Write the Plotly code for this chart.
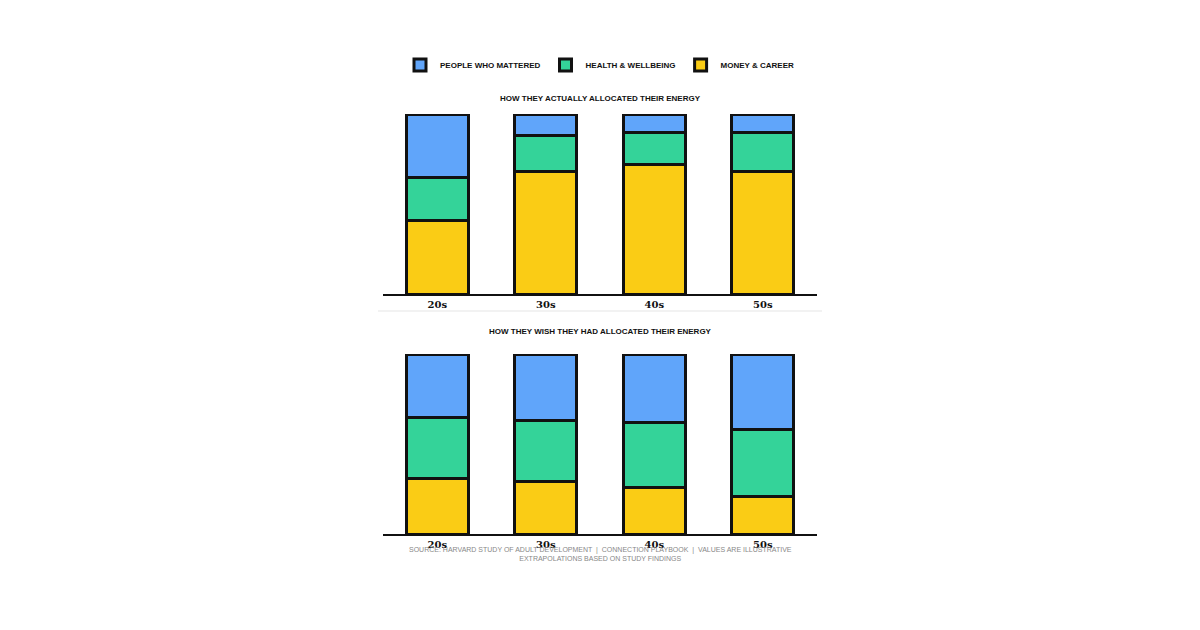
import plotly.graph_objects as go

decades = ["20s", "30s", "40s", "50s"]
actual_money = [41, 68, 72, 68]
actual_health = [24, 20, 18, 22]
actual_people = [35, 12, 10, 10]
wish_money = [31, 29, 26, 21]
wish_health = [34, 34, 36, 37]
wish_people = [35, 37, 38, 42]

series_names = ["Money & Career", "Health & Wellbeing", "People Who Mattered"]
colors = ["#facc15", "#34d399", "#60a5fa"]

W, H = 1200, 630
OFF = 8
fig = go.Figure()
def py(p): return 1 - (p - OFF) / H
def px(p): return (p - OFF) / W

axes = [("x", "y", [actual_money, actual_health, actual_people], py(294), py(114)),
        ("x2", "y2", [wish_money, wish_health, wish_people], py(534), py(354))]
for i, (xa, ya, vals, y0, y1) in enumerate(axes):
    for j in range(3):
        fig.add_trace(go.Bar(x=decades, y=vals[j], name=series_names[j].upper(),
                             marker=dict(color=colors[j], line=dict(color="#111", width=3)),
                             xaxis=xa, yaxis=ya, showlegend=(i == 0),
                             legendrank=3 - j))
    suf = "" if i == 0 else "2"
    fig.layout["xaxis" + suf] = dict(domain=[px(383), px(817)], anchor=ya, showline=True,
                                     linecolor="#111", linewidth=2, ticks="", ticklabelstandoff=0,
                                     tickfont=dict(family="DejaVu Serif", size=10, color="#111", weight="bold"))
    fig.layout["yaxis" + suf] = dict(domain=[y0, y1], anchor=xa, range=[0, 100], visible=False)

fig.update_layout(
    barmode="stack", bargap=0.43, width=W, height=H, margin=dict(l=0, r=0, t=0, b=0),
    plot_bgcolor="white", paper_bgcolor="white",
    legend=dict(orientation="h", x=px(600), xanchor="center", y=py(65), yanchor="middle",
                traceorder="normal", font=dict(family="Liberation Sans", size=8, color="#111", weight="bold"),
                itemwidth=30),
    annotations=[
        dict(text="HOW THEY ACTUALLY ALLOCATED THEIR ENERGY", x=px(600), y=py(92), xref="paper", yref="paper",
             showarrow=False, font=dict(family="Liberation Sans", size=8, color="#111", weight="bold")),
        dict(text="HOW THEY WISH THEY HAD ALLOCATED THEIR ENERGY", x=px(600), y=py(332), xref="paper", yref="paper",
             showarrow=False, font=dict(family="Liberation Sans", size=8, color="#111", weight="bold")),
        dict(text="SOURCE: HARVARD STUDY OF ADULT DEVELOPMENT  |  CONNECTION PLAYBOOK  |  VALUES ARE ILLUSTRATIVE<br>EXTRAPOLATIONS BASED ON STUDY FINDINGS",
             x=px(600), y=py(564), xref="paper", yref="paper", showarrow=False,
             font=dict(family="Liberation Sans", size=7, color="#888")),
    ],
    shapes=[dict(type="line", xref="paper", yref="paper", x0=px(378), x1=px(822), y0=py(311), y1=py(311),
                 line=dict(color="#e5e5e5", width=1))],
)
fig.write_html("out.html")
